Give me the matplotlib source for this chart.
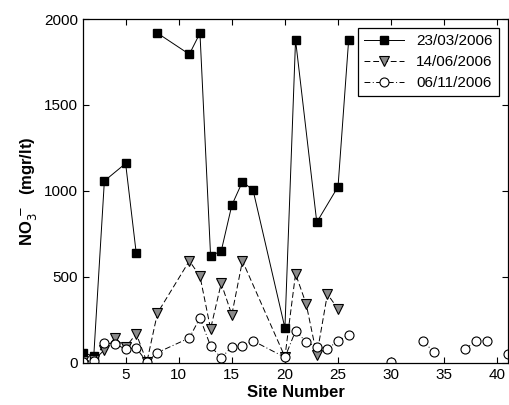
import numpy as np
import matplotlib
matplotlib.use("Agg")
import matplotlib.pyplot as plt

plt.rcParams["font.family"] = ["Liberation Sans", "DejaVu Sans"]

# NaN breaks the line where the original series had a gap
site_mar = [1, 2, 3, 5, 6, 7, 8, 11, 12, 13, 14, 15, 16, 17, 20, 21, 23, 25, 26]
no3_mar = [60, 38, 1058, 1160, 638, np.nan, 1918, 1795, 1918, 623, 650, 917,
           1054, 1005, 203, 1878, 818, 1025, 1878]

site_jun = [1, 2, 3, 4, 5, 6, 7, 8, 11, 12, 13, 14, 15, 16, 20, 21, 22, 23, 24, 25]
no3_jun = [10, 15, 75, 145, 90, 170, 5, 290, 593, 505, 198, 463, 280, 593,
           35, 518, 343, 45, 400, 314]

site_nov = [1, 2, 3, 4, 5, 6, 7, 8, 11, 12, 13, 14, 15, 16, 17, 20, 21, 22, 23,
            24, 25, 26, 27, 30, 31, 33, 34, 35, 37, 38, 39, 40, 41]
no3_nov = [5, 10, 115, 110, 80, 87, 5, 60, 145, 262, 98, 29, 93, 99, 128, 32,
           186, 122, 93, 81, 128, 163, np.nan, 5, np.nan, 128, 64, np.nan, 81,
           128, 128, np.nan, 52]

labels = ["23/03/2006", "14/06/2006", "06/11/2006"]

fig = plt.figure(figsize=(5.1, 4.05), dpi=100)
ax = fig.add_axes([0.163, 0.104, 0.833, 0.849])

ax.plot(site_mar, no3_mar, "-", color="black", lw=0.7, marker="s", ms=5.5,
        mfc="black", mec="black", label=labels[0])
ax.plot(site_jun, no3_jun, color="black", lw=0.7, dashes=(6, 3), marker="v",
        ms=7, mfc="#8a8a8a", mec="black", mew=0.8, label=labels[1])
ax.plot(site_nov, no3_nov, color="black", lw=0.7, dashes=(6, 2.5, 1, 2.5),
        marker="o", ms=6.5, mfc="white", mec="black", mew=0.8, label=labels[2])

ax.set_xlim(1, 41)
ax.set_ylim(0, 2000)
ax.set_xticks(range(5, 41, 5))
ax.set_yticks(range(0, 2001, 500))
ax.tick_params(direction="in", top=True, right=True, labelsize=11, length=4)
for s in ax.spines.values():
    s.set_linewidth(0.9)

ax.set_xlabel("Site Number", fontsize=12, fontweight="bold", labelpad=2)
ax.set_ylabel(r"NO$_3^{\,-}$  (mgr/lt)", fontsize=12, fontweight="bold", labelpad=4)

leg = ax.legend(loc="upper right", fontsize=11, frameon=True, fancybox=False,
                edgecolor="black", framealpha=1, borderaxespad=0.6,
                handlelength=2.6, labelspacing=0.45, borderpad=0.4)
leg.get_frame().set_linewidth(0.9)

fig.savefig("out.png", dpi=100)
